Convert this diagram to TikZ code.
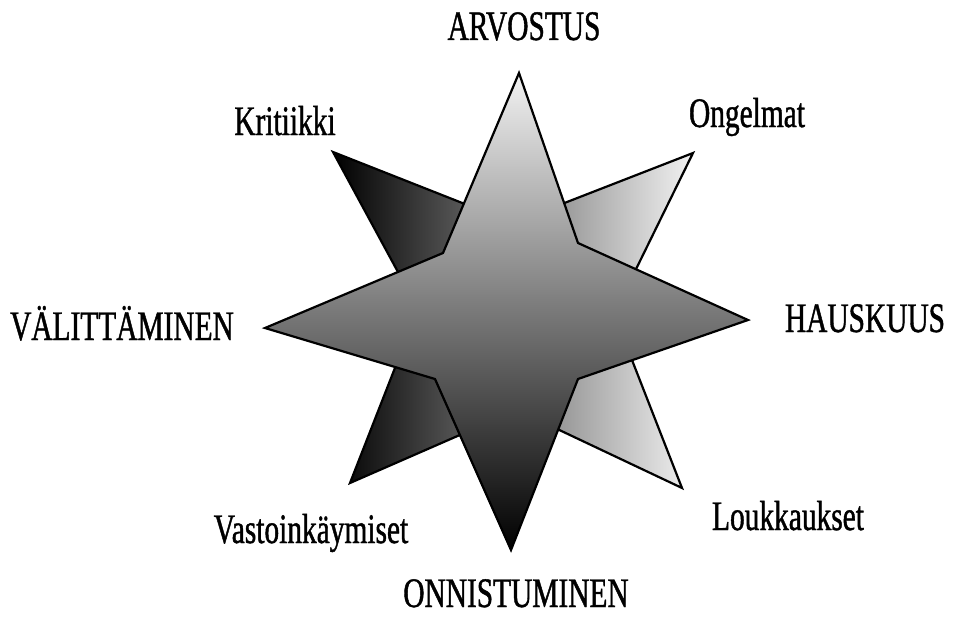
\documentclass[tikz,border=0pt]{standalone}
\usepackage{fontspec}
\newfontfamily\starfont[FakeStretch=0.7,FakeBold=1]{Liberation Serif}
\usepackage{tikz}
\definecolor{ink}{RGB}{0,0,0}

\begin{document}
\begin{tikzpicture}[x=1pt,y=-1pt,
    starline/.style={draw=ink,line width=2.2pt,line join=miter},
    lbl/.style={font=\starfont\fontsize{42}{44}\selectfont,anchor=base,inner sep=0pt}]
  \useasboundingbox (0,0) rectangle (953,618);
  % back star (diagonal arms)
  \path[starline,left color=black,middle color=black!55,right color=black!5]
    (333,152)--(513,223)--(693,153)--(614,314)--(682,488)--(517,410)--(350,483)--(418,309)--cycle;
  % front star
  \path[starline,top color=black!5,bottom color=black]
    (519,73)--(578,243)--(748,320)--(578,379)--(511,550)--(435,379)--(265,328)--(443,253)--cycle;
  \foreach \nm/\x/\y/\txt in {arvo/524/40/{ARVOSTUS},haus/865/332/{HAUSKUUS},onni/516/607/{ONNISTUMINEN},vali/122/340/{VÄLITTÄMINEN},krit/285/135/{Kritiikki},onge/747/127/{Ongelmat},louk/788/530/{Loukkaukset},vast/311/543/{Vastoinkäymiset}}{
    \node[lbl] (\nm) at (\x,\y) {\txt};
  }
\end{tikzpicture}
\end{document}
